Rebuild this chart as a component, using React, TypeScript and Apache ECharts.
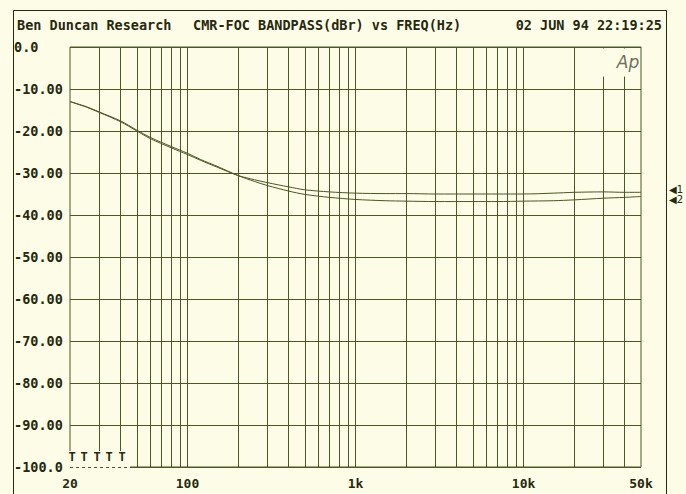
import React, { useEffect, useRef } from "react";
import * as echarts from "echarts";

// ---- data ----
const FREQS = [20, 25, 30, 40, 50, 60, 80, 100, 120, 150, 200, 250, 300, 400, 500, 700, 1000, 1500, 2000, 3000, 5000, 7000, 10000, 15000, 20000, 30000, 40000, 50000];
const TRACE_1 = [-13.0, -14.3, -15.6, -17.8, -20.0, -21.8, -24.0, -25.6, -27.0, -28.6, -30.6, -31.6, -32.3, -33.3, -34.0, -34.5, -34.8, -34.9, -34.9, -35.0, -35.0, -35.0, -35.0, -34.8, -34.6, -34.5, -34.6, -34.6];
const TRACE_2 = [-13.0, -14.2, -15.5, -17.6, -19.8, -21.5, -23.7, -25.3, -26.8, -28.4, -30.6, -32.0, -33.0, -34.3, -35.1, -35.8, -36.3, -36.6, -36.7, -36.8, -36.8, -36.8, -36.7, -36.6, -36.4, -36.0, -35.8, -35.6];
const GRID_FREQS = [30, 40, 50, 60, 70, 80, 90, 100, 200, 300, 400, 500, 600, 700, 800, 900, 1000, 2000, 3000, 4000, 5000, 6000, 7000, 8000, 9000, 10000, 20000, 30000, 40000];
const X_LABEL_VALUES = [20, 100, 1000, 10000, 50000];
const X_LABEL_TEXTS = ["20", "100", "1k", "10k", "50k"];
const Y_LABEL_VALUES = [0, -10, -20, -30, -40, -50, -60, -70, -80, -90, -100];
const Y_LABEL_TEXTS = ["0.0", "-10.00", "-20.00", "-30.00", "-40.00", "-50.00", "-60.00", "-70.00", "-80.00", "-90.00", "-100.0"];
const TITLE_LEFT = "Ben Duncan Research";
const TITLE_MID = "CMR-FOC BANDPASS(dBr) vs FREQ(Hz)";
const TITLE_RIGHT = "02 JUN 94 22:19:25";

const BG = "#fdfde7";
const INK = "#26280f";
const GRID = "#4c5724";
const CURVE = "#4a5523";
const MONO = "'DejaVu Sans Mono', monospace";

export default function App() {
  const ref = useRef<HTMLDivElement>(null);
  useEffect(() => {
    document.body.style.margin = "0";
    const chart = echarts.init(ref.current!, null, { renderer: "svg" });
    const tPos = [72, 84, 97, 109, 122];
    const option: any = {
      animation: false,
      backgroundColor: BG,
      grid: { left: 70, right: 45, top: 47, bottom: 27, show: true, borderColor: GRID, borderWidth: 1, backgroundColor: "transparent" },
      xAxis: {
        type: "log",
        logBase: 10,
        min: 20,
        max: 50000,
        axisLine: { show: false },
        axisTick: { show: false },
        splitLine: { show: false },
        minorSplitLine: { show: false },
        axisLabel: {
          showMinLabel: true,
          showMaxLabel: true,
          color: INK,
          fontFamily: MONO,
          fontWeight: "bold",
          fontSize: 13,
          margin: 10,
          formatter: (v: number) => {
            const i = X_LABEL_VALUES.findIndex((x) => Math.abs(Math.log10(x) - Math.log10(v)) < 1e-6);
            return i >= 0 ? X_LABEL_TEXTS[i] : "";
          },
        },
      },
      yAxis: {
        type: "value",
        min: -100,
        max: 0,
        interval: 10,
        axisLine: { show: false },
        axisTick: { show: false },
        splitLine: { show: true, lineStyle: { color: GRID, width: 1 } },
        axisLabel: {
          align: "left",
          margin: 56,
          color: INK,
          fontFamily: MONO,
          fontWeight: "bold",
          fontSize: 13.5,
          formatter: (v: number) => {
            const i = Y_LABEL_VALUES.findIndex((y) => Math.abs(y - v) < 1e-6);
            return i >= 0 ? Y_LABEL_TEXTS[i] : "";
          },
        },
      },
      series: [
        {
          type: "line",
          data: FREQS.map((f, i) => [f, TRACE_1[i]]),
          showSymbol: false,
          smooth: 0.3,
          lineStyle: { color: CURVE, width: 1 },
          silent: true,
          markLine: {
            silent: true,
            symbol: ["none", "none"],
            label: { show: false },
            lineStyle: { color: GRID, width: 1, type: "solid" },
            emphasis: { disabled: true },
            data: GRID_FREQS.map((f) => ({ xAxis: f })),
          },
        },
        {
          type: "line",
          data: FREQS.map((f, i) => [f, TRACE_2[i]]),
          showSymbol: false,
          smooth: 0.3,
          lineStyle: { color: CURVE, width: 1 },
          silent: true,
        },
      ],
      graphic: [
        { type: "polyline", z: 100, shape: { points: [[13.5, 494], [13.5, 10.5], [666.5, 10.5], [666.5, 494]] }, style: { stroke: INK, lineWidth: 1, fill: "none" } },
        { type: "text", z: 100, x: 17, y: 25, style: { text: TITLE_LEFT, font: `bold 13.5px ${MONO}`, fill: INK, textAlign: "left", textVerticalAlign: "middle" } },
        { type: "text", z: 100, x: 193, y: 25, style: { text: TITLE_MID, font: `bold 13.5px ${MONO}`, fill: INK, textAlign: "left", textVerticalAlign: "middle" } },
        { type: "text", z: 100, x: 662, y: 25, style: { text: TITLE_RIGHT, font: `bold 13.5px ${MONO}`, fill: INK, textAlign: "right", textVerticalAlign: "middle" } },
        { type: "rect", z: 100, shape: { x: 588, y: 48.5, width: 52, height: 28 }, style: { fill: BG } },
        { type: "text", z: 101, x: 628, y: 62, style: { text: "Ap", font: "italic 17px 'DejaVu Sans', sans-serif", fill: "#707060", textAlign: "center", textVerticalAlign: "middle" } },
        { type: "rect", z: 100, shape: { x: 66, y: 451, width: 64, height: 17 }, style: { fill: BG } },
        { type: "line", z: 101, shape: { x1: 70, y1: 467.5, x2: 130, y2: 467.5 }, style: { stroke: GRID, lineWidth: 1, lineDash: [3, 3] } },
        ...tPos.map((x) => ({ type: "text", z: 101, x, y: 457, style: { text: "T", font: `bold 12px ${MONO}`, fill: INK, textAlign: "center", textVerticalAlign: "middle" } })),
        { type: "text", z: 100, x: 669, y: 189, style: { text: "◀1", font: "10px 'DejaVu Sans', sans-serif", fill: INK, textAlign: "left", textVerticalAlign: "middle" } },
        { type: "text", z: 100, x: 669, y: 199, style: { text: "◀2", font: "10px 'DejaVu Sans', sans-serif", fill: INK, textAlign: "left", textVerticalAlign: "middle" } },
      ],
    };
    chart.setOption(option);
    return () => chart.dispose();
  }, []);
  return <div ref={ref} style={{ position: "fixed", left: 0, top: 0, width: 686, height: 494, background: BG }} />;
}
